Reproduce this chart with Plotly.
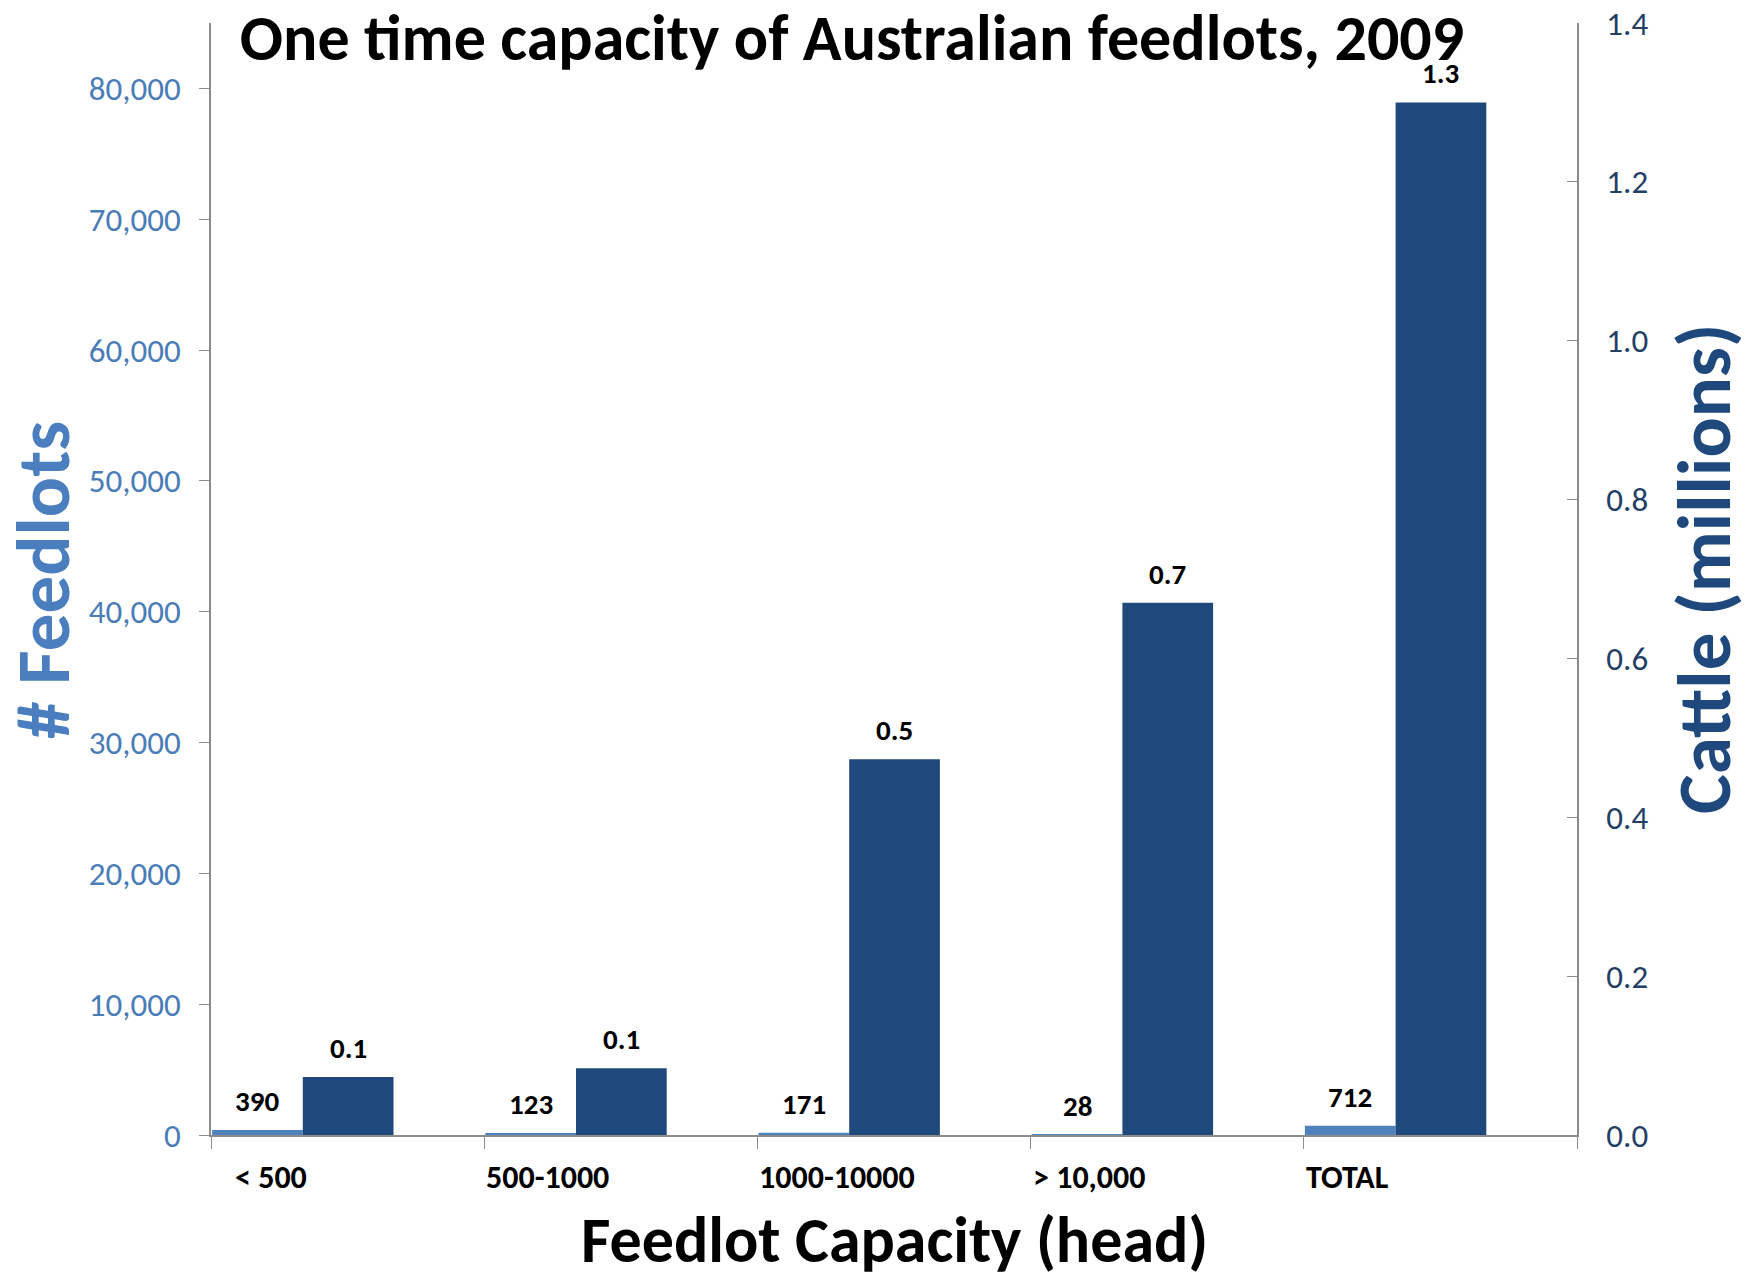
import plotly.graph_objects as go

# Feedlot size classes and 2009 one-time capacity figures
categories = ["< 500", "500-1000", "1000-10000", "> 10,000", "TOTAL"]
feedlots = [390, 123, 171, 28, 712]            # number of feedlots
cattle_millions = [0.073, 0.084, 0.473, 0.670, 1.300]  # one-time capacity, million head

left_ticks = [0, 10000, 20000, 30000, 40000, 50000, 60000, 70000, 80000]
right_ticks = [0.0, 0.2, 0.4, 0.6, 0.8, 1.0, 1.2, 1.4]

FONT = "Carlito, Calibri, Lato, sans-serif"
LIGHT = "#4F81BD"
DARK = "#1F497D"
AXIS = "#8C8C8C"

W, H = 1754, 1276
L, R, T, B = 211, 177, 23, 141

xs = list(range(len(categories)))
bar_w = 0.332

fig = go.Figure()
fig.add_trace(go.Bar(
    x=xs, y=feedlots, name="# Feedlots",
    marker=dict(color=LIGHT, line=dict(width=0)),
    width=bar_w, offset=-0.496, yaxis="y",
))
fig.add_trace(go.Bar(
    x=xs, y=cattle_millions, name="Cattle (millions)",
    marker=dict(color=DARK, line=dict(width=0)),
    width=bar_w, offset=-0.164, yaxis="y2",
))

annotations = []
# value labels above each bar
for i, v in enumerate(feedlots):
    annotations.append(dict(
        x=i - 0.496 + bar_w / 2, y=v, xref="x", yref="y",
        text=f"{v:,}", showarrow=False, yanchor="bottom", yshift=9,
        font=dict(family=FONT, size=29, color="#000000", weight="bold"),
    ))
for i, v in enumerate(cattle_millions):
    annotations.append(dict(
        x=i - 0.164 + bar_w / 2, y=v, xref="x", yref="y2",
        text=f"{v:.1f}", showarrow=False, yanchor="bottom", yshift=9,
        font=dict(family=FONT, size=29, color="#000000", weight="bold"),
    ))

# category labels, left-aligned at each category boundary
for i, c in enumerate(categories):
    annotations.append(dict(
        x=i - 0.5, y=0, xref="x", yref="paper",
        text=c, showarrow=False, xanchor="left", yanchor="middle",
        yshift=-42, xshift=22 if i == 0 else 0,
        font=dict(family=FONT, size=32, color="#000000", weight="bold"),
    ))

# axis titles
annotations.append(dict(
    x=0, y=0.5, xref="paper", yref="paper", xshift=-168, yshift=-1,
    text="# Feedlots", textangle=-90, showarrow=False,
    xanchor="center", yanchor="middle",
    font=dict(family=FONT, size=75, color="#4A7EBF", weight="bold"),
))
annotations.append(dict(
    x=1, y=0.5, xref="paper", yref="paper", xshift=127, yshift=10,
    text="Cattle (millions)", textangle=-90, showarrow=False,
    xanchor="center", yanchor="middle",
    font=dict(family=FONT, size=75, color=DARK, weight="bold"),
))
annotations.append(dict(
    x=0.5, y=0, xref="paper", yref="paper", yshift=-105,
    text="Feedlot Capacity (head)", showarrow=False,
    xanchor="center", yanchor="middle",
    font=dict(family=FONT, size=64, color="#000000", weight="bold"),
))

fig.update_layout(
    width=W, height=H,
    margin=dict(l=L, r=R, t=T, b=B, pad=0, autoexpand=False),
    paper_bgcolor="white", plot_bgcolor="white",
    showlegend=False,
    barmode="overlay",
    title=dict(
        text="One time capacity of Australian feedlots, 2009",
        x=852 / W, xanchor="center", xref="container",
        y=1 - 38 / H, yanchor="middle", yref="container",
        font=dict(family=FONT, size=64, color="#000000", weight="bold"),
    ),
    xaxis=dict(
        range=[-0.5, len(categories) - 0.5],
        tickvals=[i - 0.5 for i in range(len(categories) + 1)],
        showticklabels=False, ticks="outside", ticklen=12, tickcolor=AXIS,
        showline=True, linecolor=AXIS, linewidth=1.5, showgrid=False,
        zeroline=False, automargin=False,
    ),
    yaxis=dict(
        range=[0, 85000],
        tickvals=left_ticks, ticktext=[f"{t:,}" for t in left_ticks],
        ticks="outside", ticklen=10, tickcolor=AXIS,
        showline=True, linecolor=AXIS, linewidth=1.5, showgrid=False,
        zeroline=False, ticklabelstandoff=12, automargin=False,
        tickfont=dict(family=FONT, size=33, color="#4A7CB8"),
    ),
    yaxis2=dict(
        range=[0, 1.4], overlaying="y", side="right",
        tickvals=right_ticks, ticktext=[f"{t:.1f}" for t in right_ticks],
        ticks="inside", ticklen=10, tickcolor=AXIS,
        showline=True, linecolor=AXIS, linewidth=1.5, showgrid=False,
        zeroline=False, ticklabelstandoff=21, automargin=False,
        tickfont=dict(family=FONT, size=33, color="#243F66"),
    ),
    annotations=annotations,
)

fig.write_html("out.html")
